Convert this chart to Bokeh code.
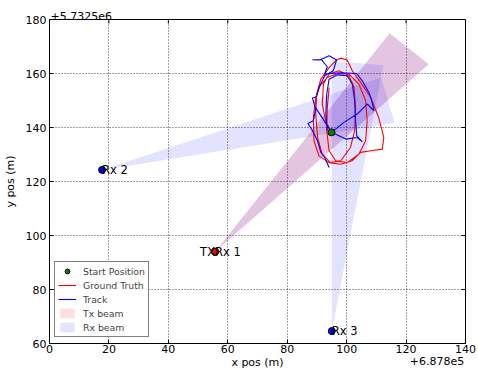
import numpy as np
from bokeh.plotting import figure
from bokeh.models import (Range1d, FixedTicker, LinearAxis, Legend, LegendItem)
from bokeh.core.properties import value
from bokeh.embed import file_html
from bokeh.resources import INLINE

# ---------------- data (offsets from +6.878e5 / +5.7325e6) ----------------
X_OFFSET_TEXT = "+6.878e5"
Y_OFFSET_TEXT = "+5.7325e6"

x_ticks = [0, 20, 40, 60, 80, 100, 120, 140]
y_ticks = [60, 80, 100, 120, 140, 160, 180]

start_x = [94.9]
start_y = [138.2]

tx_x = [55.7]
tx_y = [94.0]

rx_names = ["Rx 1", "Rx 2", "Rx 3"]
rx_x = [55.7, 17.7, 95.0]
rx_y = [94.0, 124.3, 64.6]

beam_range = 100.0
tx_beam_start_deg = [44.0]
tx_beam_end_deg = [54.0]
rx_beam_start_deg = [44.0, 10.0, 80.0]
rx_beam_end_deg = [54.0, 20.0, 90.0]

truth_x = [94.9, 92.9, 91.8, 92.2, 94.1, 97.4, 100.8, 102.5, 103.0, 102.7,
           101.3, 98.0, 94.6, 91.8, 90.2, 89.6, 89.9, 91.3, 94.1, 96.3,
           98.0, 100.2, 101.9, 104.7, 108.1, 110.8, 112.5, 112.0, 108.1, 104.7,
           101.9, 98.0, 94.1, 90.7, 89.0, 88.8, 89.6, 91.0, 93.5, 96.9,
           100.8, 104.1, 106.4, 106.9, 106.4, 104.1, 100.2, 96.3, 94.1, 93.3,
           93.5, 94.1]
truth_y = [138.2, 142.5, 148.7, 156.1, 159.8, 161.0, 159.2, 154.8, 147.4, 138.8,
           132.6, 127.7, 127.0, 130.1, 136.3, 145.0, 152.4, 157.9, 162.2, 164.7,
           165.7, 165.0, 161.0, 156.7, 151.1, 143.7, 136.3, 132.0, 131.4, 130.8,
           127.7, 126.4, 127.0, 129.5, 135.1, 143.7, 151.1, 155.4, 158.5, 160.0,
           159.8, 156.1, 149.9, 142.5, 135.1, 130.1, 127.0, 127.7, 131.4, 138.8,
           147.4, 154.8]

track_x = [94.1, 92.6, 91.3, 90.2, 88.5, 87.0, 88.8, 89.6, 88.5, 89.9,
           90.7, 92.6, 95.5, 96.6, 94.1, 91.0, 88.5, 91.5, 93.5, 92.6,
           98.0, 103.4, 105.6, 107.5, 108.6, 109.2, 106.9, 103.8, 99.1, 94.9,
           92.4, 89.6, 91.8, 94.9, 99.7, 103.6, 105.3, 103.4, 103.0, 102.7,
           101.9, 100.2, 96.9, 94.1, 93.3, 93.0, 93.5]
track_y = [125.2, 128.9, 130.8, 135.1, 138.8, 141.5, 142.5, 146.8, 150.9, 151.4,
           154.8, 159.2, 161.0, 165.0, 166.6, 165.0, 165.1, 165.1, 162.5, 159.8,
           160.3, 160.0, 156.7, 153.0, 149.3, 146.2, 148.7, 145.2, 141.9, 138.2,
           142.5, 147.2, 143.7, 138.2, 135.7, 136.3, 134.7, 136.9, 142.5, 149.9,
           156.1, 159.2, 159.5, 157.9, 152.4, 145.0, 138.8]

# ---------------- figure ----------------
FONT = "DejaVu Sans"
X0, X1 = x_ticks[0], x_ticks[-1]
Y0, Y1 = y_ticks[0], y_ticks[-1]

p = figure(width=478, height=380, output_backend="svg", toolbar_location=None,
           x_range=Range1d(X0, X1), y_range=Range1d(Y0, Y1),
           min_border_left=48, min_border_right=13, min_border_top=19,
           min_border_bottom=37)
p.background_fill_color = "white"
p.border_fill_color = "white"
p.outline_line_color = "black"
p.outline_line_width = 1

# offset text (top-left) as title
p.title.text = Y_OFFSET_TEXT
p.title.align = "left"
p.title.text_font = FONT
p.title.text_font_size = "11px"
p.title.text_font_style = "normal"
p.title.text_color = "black"
p.title.standoff = 0
p.title.offset = 1

for ax in (p.xaxis[0], p.yaxis[0]):
    ax.major_label_text_font = FONT
    ax.major_label_text_font_size = "11px"
    ax.major_label_text_color = "black"
    ax.major_tick_in = 4
    ax.major_tick_out = 0
    ax.minor_tick_in = 0
    ax.minor_tick_out = 0
    ax.axis_line_color = "black"
    ax.major_tick_line_color = "black"
    ax.axis_label_text_font = FONT
    ax.axis_label_text_font_size = "11px"
    ax.axis_label_text_font_style = "normal"
    ax.axis_label_text_color = "black"

p.xaxis.ticker = FixedTicker(ticks=x_ticks)
p.yaxis.ticker = FixedTicker(ticks=y_ticks)
p.xaxis.axis_label = "x pos (m)"
p.yaxis.axis_label = "y pos (m)"
p.xaxis.major_label_standoff = 1
p.yaxis.major_label_standoff = 3
p.xaxis.axis_label_standoff = 0
p.yaxis.axis_label_standoff = 6

# offset text (bottom-right): a second bottom axis carrying one right-aligned label,
# pulled up onto the x-label row
off_ax = LinearAxis(ticker=FixedTicker(ticks=[X1]),
                    major_label_overrides={X1: X_OFFSET_TEXT},
                    major_label_text_align="right",
                    major_label_text_font=FONT, major_label_text_font_size="11px",
                    major_label_text_color="black",
                    major_label_standoff=-15,
                    major_tick_in=0, major_tick_out=0, minor_tick_in=0, minor_tick_out=0,
                    axis_line_color=None, major_tick_line_color=None)
p.add_layout(off_ax, "below")

p.grid.grid_line_color = "black"
p.grid.grid_line_dash = "1 2"
p.grid.grid_line_width = 1
p.grid.grid_line_alpha = 0.75
p.xgrid.ticker = FixedTicker(ticks=x_ticks)
p.ygrid.ticker = FixedTicker(ticks=y_ticks)

# inward ticks on top and right edges of the frame
TICK_DX = 4 / 2.98
TICK_DY = 4 / 2.7
p.segment(x0=x_ticks, y0=[Y1] * len(x_ticks), x1=x_ticks, y1=[Y1 - TICK_DY] * len(x_ticks),
          line_color="black", line_width=1)
p.segment(x0=[X1] * len(y_ticks), y0=y_ticks, x1=[X1 - TICK_DX] * len(y_ticks), y1=y_ticks,
          line_color="black", line_width=1)


def beam_polys(ox, oy, a0, a1):
    xs, ys = [], []
    for x0, y0, s, e in zip(ox, oy, a0, a1):
        xs.append([x0, x0 + beam_range * np.cos(np.radians(s)),
                   x0 + beam_range * np.cos(np.radians(e))])
        ys.append([y0, y0 + beam_range * np.sin(np.radians(s)),
                   y0 + beam_range * np.sin(np.radians(e))])
    return xs, ys

txs, tys = beam_polys(tx_x, tx_y, tx_beam_start_deg, tx_beam_end_deg)
rxs, rys = beam_polys(rx_x, rx_y, rx_beam_start_deg, rx_beam_end_deg)

r_tx = p.patches(txs, tys, fill_color="red", fill_alpha=0.13, line_color=None)
r_rx = p.patches(rxs, rys, fill_color="blue", fill_alpha=0.11, line_color=None)

r_truth = p.line(truth_x, truth_y, line_color="red", line_width=1.1)
r_track = p.line(track_x, track_y, line_color="blue", line_width=1.1)

r_start = p.scatter(start_x, start_y, marker="circle", size=7, fill_color="green",
                    line_color="black", line_width=1)
p.scatter(rx_x, rx_y, marker="circle", size=7, fill_color="blue",
          line_color="black", line_width=1)
p.scatter(tx_x, tx_y, marker="circle", size=7, fill_color="red",
          line_color="black", line_width=1)

p.text(x=rx_x, y=rx_y, text=rx_names, text_font=value(FONT), text_font_size="11.5px",
       text_align="left", text_baseline="alphabetic", text_color="black")
p.text(x=tx_x, y=tx_y, text=["TX"], text_font=value(FONT), text_font_size="11.5px",
       text_align="right", text_baseline="alphabetic", text_color="black")

legend = Legend(items=[
    LegendItem(label="Start Position", renderers=[r_start]),
    LegendItem(label="Ground Truth", renderers=[r_truth]),
    LegendItem(label="Track", renderers=[r_track]),
    LegendItem(label="Tx beam", renderers=[r_tx]),
    LegendItem(label="Rx beam", renderers=[r_rx]),
], location=(5, 6))
legend.border_line_color = "black"
legend.border_line_width = 1
legend.background_fill_color = "white"
legend.background_fill_alpha = 1
legend.label_text_font = FONT
legend.label_text_font_size = "9.3px"
legend.glyph_width = 18
legend.glyph_height = 12
legend.label_height = 12
legend.label_standoff = 7
legend.spacing = 2
legend.padding = 3
legend.margin = 0
p.add_layout(legend, "center")

open("out.html", "w").write(file_html(p, INLINE))
